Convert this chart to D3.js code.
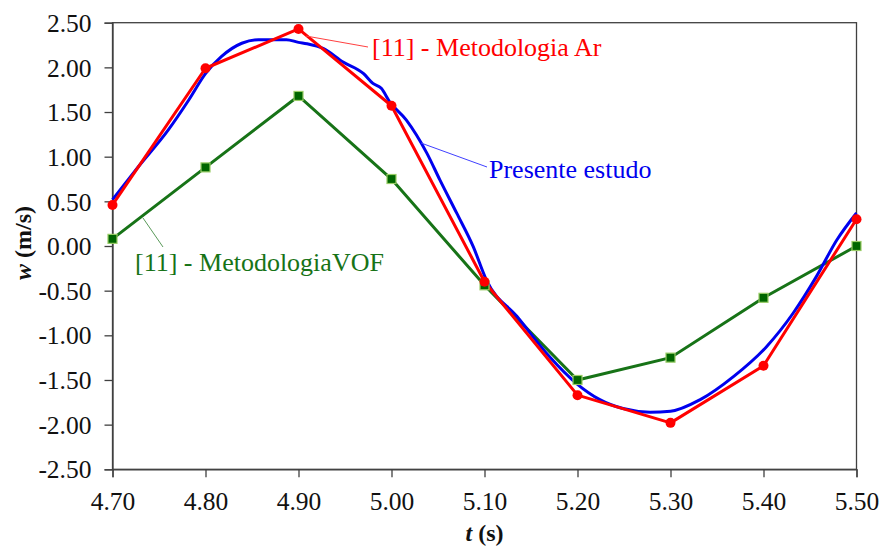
<!DOCTYPE html>
<html><head><meta charset="utf-8">
<script src="https://cdn.jsdelivr.net/npm/d3@7/dist/d3.min.js"></script>
<style>
body{margin:0;background:#fff;}
svg, svg text{font-family:"Liberation Serif","Times New Roman","DejaVu Serif",serif !important;}
</style></head>
<body><svg id="c" width="883" height="548"></svg>
<script>
const xTicks = [4.70,4.80,4.90,5.00,5.10,5.20,5.30,5.40,5.50];
const yTicks = [2.50,2.00,1.50,1.00,0.50,0.00,-0.50,-1.00,-1.50,-2.00,-2.50];
const tAr = [4.70,4.80,4.90,5.00,5.10,5.20,5.30,5.40,5.50];
const wAr = [0.46,1.99,2.43,1.57,-0.40,-1.67,-1.98,-1.34,0.30];
const tVOF = [4.70,4.80,4.90,5.00,5.10,5.20,5.30,5.40,5.50];
const wVOF = [0.08,0.88,1.68,0.75,-0.44,-1.50,-1.25,-0.58,0.00];
const tPres = [4.700,4.728,4.760,4.782,4.800,4.817,4.839,4.857,4.887,4.900,4.909,4.927,4.948,4.970,4.980,4.989,4.998,5.016,5.038,5.052,5.070,5.088,5.102,5.135,5.170,5.199,5.224,5.249,5.278,5.300,5.332,5.368,5.403,5.432,5.457,5.479,5.500];
const wPres = [0.52,0.89,1.30,1.635,1.93,2.12,2.27,2.31,2.31,2.28,2.265,2.21,2.06,1.93,1.82,1.765,1.615,1.41,1.04,0.74,0.37,-0.01,-0.38,-0.79,-1.24,-1.54,-1.72,-1.82,-1.86,-1.85,-1.72,-1.46,-1.13,-0.75,-0.34,0.07,0.37];

const FONT = "Liberation Serif, Times New Roman, DejaVu Serif, serif";
const svg = d3.select("#c").attr("font-family",FONT);
const L=112.5, R=856.5, T=22.7, B=469.3;
const x = d3.scaleLinear().domain([4.7,5.5]).range([L,R]);
const y = d3.scaleLinear().domain([-2.5,2.5]).range([B,T]);
const axisCol = "#404040";

svg.append("rect").attr("x",L).attr("y",T).attr("width",R-L).attr("height",B-T)
  .attr("fill","none").attr("stroke",axisCol).attr("stroke-width",1.3);

const gx = svg.append("g").attr("transform",`translate(0,${B})`)
  .call(d3.axisBottom(x).tickValues(xTicks).tickFormat(d3.format(".2f")).tickSize(8).tickPadding(14));
const gy = svg.append("g").attr("transform",`translate(${L},0)`)
  .call(d3.axisLeft(y).tickValues(yTicks).tickFormat(d3.format(".2f")).tickSize(8).tickPadding(13));
[gx,gy].forEach(g=>{
  g.attr("font-family",FONT);
  g.select(".domain").attr("stroke",axisCol).attr("stroke-width",1.3);
  g.selectAll(".tick line").attr("stroke",axisCol).attr("stroke-width",1.3);
  g.selectAll("text").attr("font-family",FONT).attr("font-size",25.5).attr("fill","#111");
});
gx.selectAll("text").attr("dy","0.72em");
gy.selectAll("text").attr("dy","0.34em").text(d=>d3.format(".2f")(d).replace("−","-"));

const line = d3.line().x(d=>x(d[0])).y(d=>y(d[1]));
const smooth = d3.line().x(d=>x(d[0])).y(d=>y(d[1])).curve(d3.curveMonotoneX);
const ar = tAr.map((t,i)=>[t,wAr[i]]);
const vof = tVOF.map((t,i)=>[t,wVOF[i]]);
const pres = tPres.map((t,i)=>[t,wPres[i]]);

const plot = svg.append("g");

svg.append("line").attr("x1",306).attr("y1",36).attr("x2",368).attr("y2",47).attr("stroke","#ff4040").attr("stroke-width",1);
svg.append("line").attr("x1",421).attr("y1",143).attr("x2",487).attr("y2",167).attr("stroke","#4040ff").attr("stroke-width",1);
svg.append("line").attr("x1",143).attr("y1",218).attr("x2",163).attr("y2",247).attr("stroke","#5a9a5a").attr("stroke-width",1);

plot.append("path").datum(vof).attr("d",line).attr("fill","none").attr("stroke","#177317").attr("stroke-width",3);
plot.append("path").datum(pres).attr("d",smooth).attr("fill","none").attr("stroke","#0000ee").attr("stroke-width",3).attr("stroke-linejoin","round");
plot.append("path").datum(ar).attr("d",line).attr("fill","none").attr("stroke","#ff0000").attr("stroke-width",3).attr("stroke-linejoin","round");

plot.selectAll(".sq").data(vof).enter().append("rect")
  .attr("x",d=>x(d[0])-4.5).attr("y",d=>y(d[1])-4.5).attr("width",9).attr("height",9)
  .attr("fill","#006600").attr("stroke","#99cc66").attr("stroke-width",1.2);
plot.selectAll(".ci").data(ar).enter().append("circle")
  .attr("cx",d=>x(d[0])).attr("cy",d=>y(d[1])).attr("r",5).attr("fill","#ff0000");

svg.append("text").attr("x",372).attr("y",56).attr("font-size",26).attr("fill","#ff0000").text("[11] - Metodologia Ar");
svg.append("text").attr("x",489).attr("y",178).attr("font-size",26).attr("fill","#0000ee").text("Presente estudo");
svg.append("text").attr("x",135).attr("y",271).attr("font-size",26).attr("fill","#177317").text("[11] - MetodologiaVOF");

const yt = svg.append("text").attr("transform","translate(31,243) rotate(-90)").attr("text-anchor","middle")
  .attr("font-size",24).attr("font-weight","bold").attr("fill","#111");
yt.append("tspan").attr("font-style","italic").text("w");
yt.append("tspan").text(" (m/s)");
const xt = svg.append("text").attr("x",484.5).attr("y",541).attr("text-anchor","middle")
  .attr("font-size",24).attr("font-weight","bold").attr("fill","#111");
xt.append("tspan").attr("font-style","italic").text("t");
xt.append("tspan").text(" (s)");
</script></body></html>
